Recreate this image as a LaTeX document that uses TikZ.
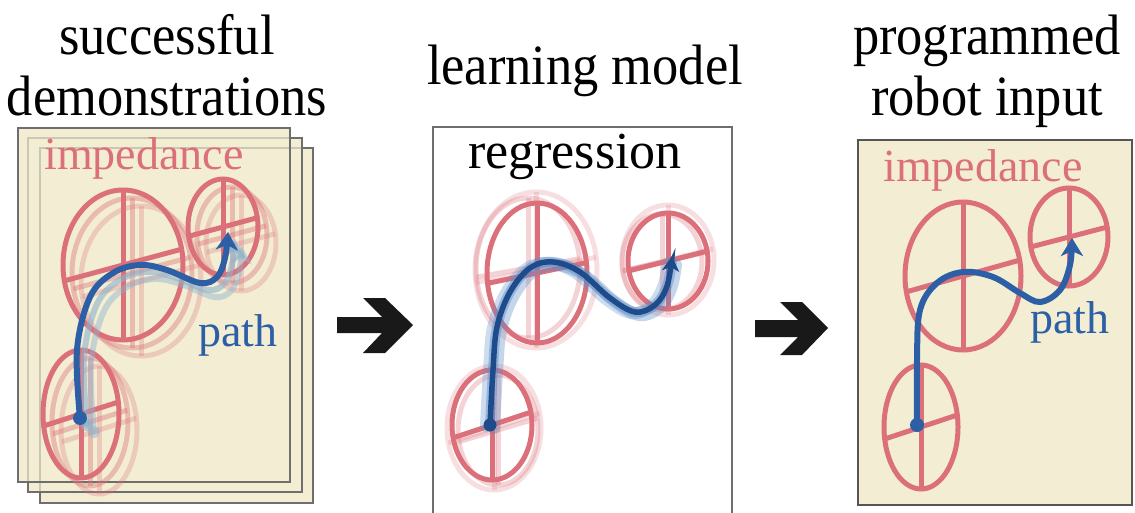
\documentclass[tikz,border=0pt]{standalone}
\usepackage{fontspec}
\setmainfont{Liberation Serif}
\newfontfamily\titlefont[FakeStretch=0.92]{Liberation Serif}
\usetikzlibrary{arrows.meta}
\definecolor{imp}{RGB}{220,112,122}
\definecolor{cream}{RGB}{243,238,211}
\definecolor{pathblue}{RGB}{44,95,165}
\definecolor{ghostblue}{RGB}{140,178,205}
\definecolor{navy}{RGB}{30,75,138}
\definecolor{halo}{RGB}{90,140,200}
\definecolor{frame}{RGB}{110,110,110}
\definecolor{frameb}{RGB}{85,85,85}
% #1 cx, #2 cy, #3 rx, #4 ry, #5 slope of chord, #6 style
\newcommand\Imp[6]{%
  \draw[#6] ({#1},{#2}) ellipse [x radius={#3}, y radius={#4}];
  \begin{scope}
    \clip ({#1},{#2}) ellipse [x radius={#3}, y radius={#4}];
    \draw[#6] ({#1},{#2-#4}) -- ({#1},{#2+#4});
    \draw[#6] ({#1-#3},{#2-(#5)*#3}) -- ({#1+#3},{#2+(#5)*#3});
  \end{scope}}
\begin{document}
\begin{tikzpicture}[x=1pt,y=-1pt,
  sheet/.style={draw=frame, line width=2pt, fill=cream},
  sheetline/.style={draw=frame, line width=1.5pt, draw opacity=0.3},
  panel/.style={draw=frameb, line width=2.5pt, fill=cream},
  wpanel/.style={draw=frame, line width=2.5pt, fill=white},
  ell/.style={draw=imp, line width=5pt},
  ghost/.style={draw=imp, line width=5pt, draw opacity=0.3},
  halo/.style={draw=imp, line width=5pt, draw opacity=0.22},
  traj/.style={line width=6pt, line cap=round, -{Stealth[length=18pt,width=22pt,inset=5pt]}},
  title/.style={font=\titlefont\fontsize{57}{60}\selectfont, anchor=base, inner sep=0pt},
  lbl/.style={font=\fontsize{46}{50}\selectfont, inner sep=0pt},
  blockarrow/.style={fill=black!90}]
\useasboundingbox (0,0) rectangle (1135,513);
\fill[white] (0,0) rectangle (1135,513);

% titles
\node[title] (t1a) at (167,55) {successful};
\node[title] (t1b) at (167,116) {demonstrations};
\node[title] (t2) at (585,85) {learning model};
\node[title] (t3a) at (987,55) {programmed};
\node[title] (t3b) at (987,116) {robot input};

% ---------- left panel: stacked sheets ----------
\draw[sheet] (40,148) rectangle (313,503);
\draw[sheet] (28,138) rectangle (302,492);
\draw[sheet] (18,128) rectangle (290,482);
\draw[sheetline] (40,148) rectangle (313,503);
\draw[sheetline] (28,138) rectangle (302,492);

\node[lbl, text=imp] (imp1) at (144,158) {impedance};

% ghost copies
\foreach \dx/\dy/\o in {18/16/0.28, 9/8/0.4}{
  \Imp{123+\dx}{265+\dy}{60}{75}{-0.27}{draw=imp, line width=5pt, draw opacity=\o}
  \Imp{223+\dx}{227+\dy}{35}{48}{-0.27}{draw=imp, line width=5pt, draw opacity=\o}
  \Imp{81+\dx}{414+\dy}{38}{64}{-0.32}{draw=imp, line width=5pt, draw opacity=\o}
}
\Imp{123}{265}{60}{75}{-0.27}{ell}
\Imp{223}{227}{35}{48}{-0.27}{ell}
\Imp{81}{414}{38}{64}{-0.32}{ell}

\foreach \dx/\dy/\o in {14/14/0.45, 7/7/0.6}{
  \begin{scope}[shift={(\dx,\dy)}]
    \draw[traj, ghostblue, opacity=\o] plot[smooth, tension=0.6] coordinates
      {(80,418) (77,350) (90,297) (113,273) (140,265) (167,270) (200,283) (217,277) (225,258) (228,232)};
    \fill[ghostblue, opacity=\o] (80,418) circle (6);
  \end{scope}
}
\draw[traj, pathblue] plot[smooth, tension=0.6] coordinates
  {(80,418) (77,350) (90,297) (113,273) (140,265) (167,270) (200,283) (217,277) (225,258) (228,232)};
\fill[pathblue] (80,418) circle (7);
\node[lbl, text=pathblue] (path1) at (238,335) {path};

% ---------- block arrows ----------
\fill[blockarrow] (337,317) -- (382,317) -- (363,298) -- (385,298) -- (413,325)
  -- (385,353) -- (363,353) -- (382,333) -- (337,333) -- cycle;
\fill[blockarrow] (755,320) -- (798,320) -- (780,302) -- (802,302) -- (828,328)
  -- (802,355) -- (780,355) -- (798,337) -- (755,337) -- cycle;

% ---------- middle panel ----------
\draw[wpanel] (433,127) rectangle (732,520);
\node[lbl, font=\fontsize{52}{56}\selectfont] (reg) at (575,157) {regression};

\Imp{536}{270}{61}{78}{-0.21}{halo}
\Imp{528}{268}{52}{70}{-0.18}{ghost}
\Imp{668}{260}{46}{55}{-0.25}{halo}
\Imp{662}{262}{40}{48}{-0.22}{ghost}
\Imp{494}{428}{47}{62}{-0.33}{halo}
\Imp{498}{430}{40}{55}{-0.30}{ghost}

\Imp{537}{273}{50}{70}{-0.21}{ell}
\Imp{668}{261}{40}{48}{-0.25}{ell}
\Imp{492}{425}{40}{55}{-0.33}{ell}

\foreach \dx/\dy/\w/\o in {-4/1/12/0.3, 4/3/12/0.35, 0/0/10/0.45}{
  \begin{scope}[shift={(\dx,\dy)}]
    \draw[draw=halo, line width=\w pt, line cap=round, opacity=\o] plot[smooth, tension=0.6] coordinates
      {(490,425) (493,370) (497,327) (510,292) (530,268) (553,262) (580,272) (610,298) (635,312) (655,305) (667,286) (672,262)};
  \end{scope}
}
\draw[line width=5.5pt, navy, line cap=round, -{Stealth[length=15pt,width=17pt,inset=4pt]}] plot[smooth, tension=0.6] coordinates
  {(490,425) (493,370) (497,327) (510,292) (530,268) (553,262) (580,272) (610,298) (635,312) (655,305) (667,286) (672,256)};
\fill[navy] (490,425) circle (6.5);

% ---------- right panel ----------
\draw[panel] (858,140) rectangle (1132,505);
\node[lbl, text=imp] (imp3) at (983,170) {impedance};
\Imp{963}{276}{58}{74}{-0.28}{ell}
\Imp{1069}{237}{39}{49}{-0.26}{ell}
\Imp{921}{427}{37}{62}{-0.33}{ell}
\draw[traj, pathblue] plot[smooth, tension=0.6] coordinates
  {(917,425) (917,360) (920,310) (937,283) (963,272) (993,277) (1020,293) (1040,302) (1060,290) (1070,265) (1072,238)};
\fill[pathblue] (917,425) circle (7);
\node[lbl, text=pathblue] (path3) at (1070,322) {path};
\end{tikzpicture}
\end{document}
